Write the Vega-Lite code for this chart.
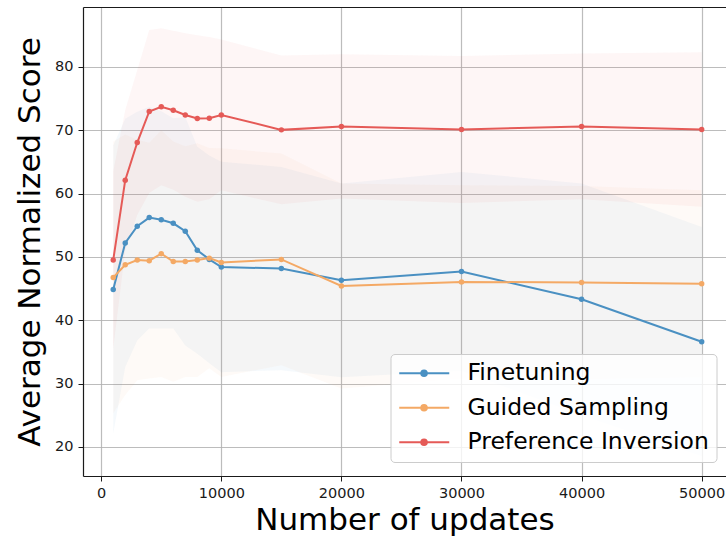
{
  "$schema": "https://vega.github.io/schema/vega-lite/v6.json",
  "width": 643,
  "height": 469,
  "autosize": "none",
  "padding": {"left": 83, "top": 7, "right": 0, "bottom": 68},
  "background": "white",
  "data": {
    "values": [
      {"method": "Finetuning", "updates": 1000, "score": 44.85, "lo": 22.1, "hi": 67.6},
      {"method": "Finetuning", "updates": 2000, "score": 52.2, "lo": 32.6, "hi": 71.8},
      {"method": "Finetuning", "updates": 3000, "score": 54.85, "lo": 36.8, "hi": 72.9},
      {"method": "Finetuning", "updates": 4000, "score": 56.2, "lo": 38.7, "hi": 73.7},
      {"method": "Finetuning", "updates": 5000, "score": 55.85, "lo": 38.7, "hi": 73.0},
      {"method": "Finetuning", "updates": 6000, "score": 55.3, "lo": 38.7, "hi": 71.9},
      {"method": "Finetuning", "updates": 7000, "score": 54.05, "lo": 36.0, "hi": 72.1},
      {"method": "Finetuning", "updates": 8000, "score": 51.05, "lo": 34.7, "hi": 67.4},
      {"method": "Finetuning", "updates": 9000, "score": 49.6, "lo": 33.2, "hi": 66.0},
      {"method": "Finetuning", "updates": 10000, "score": 48.4, "lo": 31.8, "hi": 65.0},
      {"method": "Finetuning", "updates": 15000, "score": 48.15, "lo": 32.1, "hi": 64.2},
      {"method": "Finetuning", "updates": 20000, "score": 46.3, "lo": 31.0, "hi": 61.6},
      {"method": "Finetuning", "updates": 30000, "score": 47.7, "lo": 32.0, "hi": 63.4},
      {"method": "Finetuning", "updates": 40000, "score": 43.3, "lo": 25.0, "hi": 61.6},
      {"method": "Finetuning", "updates": 50000, "score": 36.6, "lo": 18.5, "hi": 54.7},
      {"method": "Guided Sampling", "updates": 1000, "score": 46.75, "lo": 25.3, "hi": 68.2},
      {"method": "Guided Sampling", "updates": 2000, "score": 48.75, "lo": 28.2, "hi": 69.3},
      {"method": "Guided Sampling", "updates": 3000, "score": 49.5, "lo": 30.5, "hi": 68.5},
      {"method": "Guided Sampling", "updates": 4000, "score": 49.4, "lo": 30.8, "hi": 68.0},
      {"method": "Guided Sampling", "updates": 5000, "score": 50.5, "lo": 31.05, "hi": 70.0},
      {"method": "Guided Sampling", "updates": 6000, "score": 49.25, "lo": 30.3, "hi": 68.2},
      {"method": "Guided Sampling", "updates": 7000, "score": 49.25, "lo": 31.05, "hi": 67.45},
      {"method": "Guided Sampling", "updates": 8000, "score": 49.5, "lo": 31.05, "hi": 67.95},
      {"method": "Guided Sampling", "updates": 9000, "score": 49.8, "lo": 32.4, "hi": 67.2},
      {"method": "Guided Sampling", "updates": 10000, "score": 49.1, "lo": 31.05, "hi": 67.15},
      {"method": "Guided Sampling", "updates": 15000, "score": 49.6, "lo": 32.9, "hi": 66.3},
      {"method": "Guided Sampling", "updates": 20000, "score": 45.4, "lo": 29.2, "hi": 61.6},
      {"method": "Guided Sampling", "updates": 30000, "score": 46.05, "lo": 30.8, "hi": 61.3},
      {"method": "Guided Sampling", "updates": 40000, "score": 45.95, "lo": 30.7, "hi": 61.2},
      {"method": "Guided Sampling", "updates": 50000, "score": 45.75, "lo": 31.0, "hi": 60.5},
      {"method": "Preference Inversion", "updates": 1000, "score": 49.5, "lo": 35.5, "hi": 63.5},
      {"method": "Preference Inversion", "updates": 2000, "score": 62.1, "lo": 51.0, "hi": 73.2},
      {"method": "Preference Inversion", "updates": 3000, "score": 68.05, "lo": 56.6, "hi": 79.5},
      {"method": "Preference Inversion", "updates": 4000, "score": 72.95, "lo": 60.1, "hi": 85.8},
      {"method": "Preference Inversion", "updates": 5000, "score": 73.7, "lo": 61.3, "hi": 86.1},
      {"method": "Preference Inversion", "updates": 6000, "score": 73.15, "lo": 60.6, "hi": 85.7},
      {"method": "Preference Inversion", "updates": 7000, "score": 72.4, "lo": 59.5, "hi": 85.3},
      {"method": "Preference Inversion", "updates": 8000, "score": 71.85, "lo": 58.7, "hi": 85.0},
      {"method": "Preference Inversion", "updates": 9000, "score": 71.9, "lo": 59.1, "hi": 84.7},
      {"method": "Preference Inversion", "updates": 10000, "score": 72.4, "lo": 60.5, "hi": 84.3},
      {"method": "Preference Inversion", "updates": 15000, "score": 70.05, "lo": 58.3, "hi": 81.8},
      {"method": "Preference Inversion", "updates": 20000, "score": 70.6, "lo": 59.2, "hi": 82.0},
      {"method": "Preference Inversion", "updates": 30000, "score": 70.1, "lo": 58.5, "hi": 81.7},
      {"method": "Preference Inversion", "updates": 40000, "score": 70.6, "lo": 59.1, "hi": 82.1},
      {"method": "Preference Inversion", "updates": 50000, "score": 70.1, "lo": 57.9, "hi": 82.3}
    ]
  },
  "config": {
    "view": {"stroke": null},
    "font": "DejaVu Sans",
    "axis": {
      "labelFont": "DejaVu Sans",
      "labelFontSize": 14.5,
      "labelColor": "#1a1a1a",
      "titleFont": "DejaVu Sans",
      "titleFontSize": 31,
      "titleFontWeight": "normal",
      "titleColor": "#000000",
      "domainColor": "#1a1a1a",
      "domainWidth": 1.2,
      "tickColor": "#1a1a1a",
      "tickWidth": 1,
      "tickSize": 5,
      "gridColor": "#b0b0b0",
      "gridWidth": 1.2,
      "gridOpacity": 0.85
    }
  },
  "resolve": {"axis": {"x": "independent"}},
  "layer": [
    {
      "mark": {"type": "area", "fillOpacity": 0.055, "strokeWidth": 0},
      "encoding": {
        "x": {
          "field": "updates",
          "type": "quantitative",
          "scale": {"domain": [-1517, 52025], "nice": false, "zero": false},
          "axis": {"orient": "top", "labels": false, "ticks": false, "grid": false, "title": null, "domain": true}
        },
        "y": {
          "field": "lo",
          "type": "quantitative",
          "scale": {"domain": [15.4, 89.45], "nice": false, "zero": false}
        },
        "y2": {"field": "hi"},
        "fill": {
          "field": "method",
          "type": "nominal",
          "scale": {
            "domain": ["Preference Inversion", "Guided Sampling", "Finetuning"],
            "range": ["#e55a57", "#f4a965", "#4a90c2"]
          },
          "legend": null
        }
      }
    },
    {
      "mark": {"type": "line", "strokeWidth": 2, "point": {"filled": true, "size": 30, "opacity": 1}},
      "encoding": {
        "x": {
          "field": "updates",
          "type": "quantitative",
          "scale": {"domain": [-1517, 52025], "nice": false, "zero": false},
          "axis": {
            "orient": "bottom",
            "grid": true,
            "values": [0, 10000, 20000, 30000, 40000, 50000],
            "format": "d",
            "labelPadding": 5,
            "title": "Number of updates",
            "titlePadding": 6
          }
        },
        "y": {
          "field": "score",
          "type": "quantitative",
          "scale": {"domain": [15.4, 89.45], "nice": false, "zero": false},
          "axis": {
            "values": [20, 30, 40, 50, 60, 70, 80],
            "labelPadding": 5,
            "title": "Average Normalized Score",
            "titlePadding": 8
          }
        },
        "color": {
          "field": "method",
          "type": "nominal",
          "scale": {
            "domain": ["Finetuning", "Guided Sampling", "Preference Inversion"],
            "range": ["#4a90c2", "#f4a965", "#e55a57"]
          },
          "legend": {
            "orient": "none",
            "legendX": 307.5,
            "legendY": 347,
            "title": null,
            "symbolType": "M-1.05,0H3.95M1.15,0A0.28,0.28,0,1,0,1.71,0A0.28,0.28,0,1,0,1.15,0",
            "symbolSize": 400,
            "symbolStrokeWidth": 2,
            "symbolOpacity": 1,
            "labelFont": "DejaVu Sans",
            "labelFontSize": 23.5,
            "labelColor": "#000000",
            "labelOffset": 46,
            "labelLimit": 400,
            "padding": 7.5,
            "rowPadding": 9.5,
            "fillColor": "rgba(255,255,255,0.8)",
            "strokeColor": "#cccccc",
            "cornerRadius": 4,
            "encode": {"symbols": {"update": {"fill": {"scale": "color", "field": "value"}}}}
          }
        }
      }
    }
  ]
}
